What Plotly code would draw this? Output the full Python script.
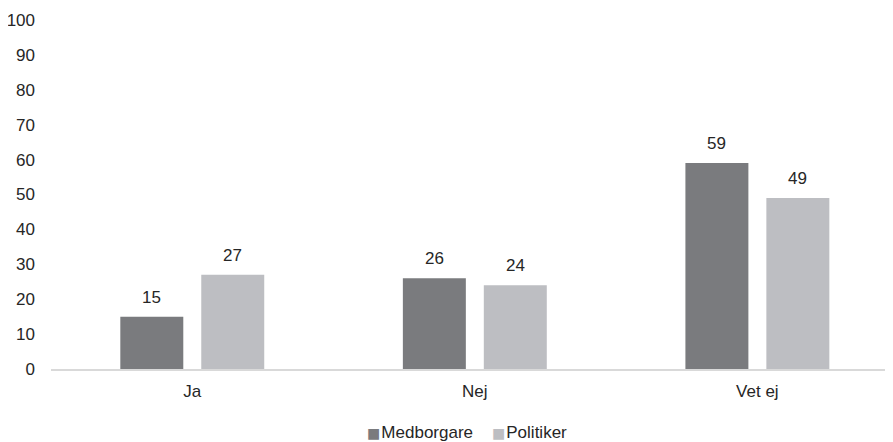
import plotly.graph_objects as go

categories = ["Ja", "Nej", "Vet ej"]
medborgare = [15, 26, 59]
politiker = [27, 24, 49]
y_ticks = [0, 10, 20, 30, 40, 50, 60, 70, 80, 90, 100]
series = [("Medborgare", medborgare, "#7a7b7e"), ("Politiker", politiker, "#bdbec2")]

FONT = "Liberation Sans, Arial, sans-serif"
TXT = "#262626"
BAR_OFFSET_PX = 40.5

fig = go.Figure()
for name, vals, col in series:
    fig.add_trace(go.Bar(
        name=name, x=categories, y=vals,
        marker=dict(color=col, line=dict(width=0)),
        showlegend=False,
    ))

for k, (name, vals, col) in enumerate(series):
    sign = -1 if k == 0 else 1
    for c, v in zip(categories, vals):
        fig.add_annotation(x=c, y=v, text=str(v), showarrow=False,
                           xshift=sign * BAR_OFFSET_PX, yshift=8,
                           yanchor="bottom", xanchor="center",
                           font=dict(family=FONT, size=17, color=TXT))

legend_text = "    ".join(
    f"<span style='color:{col};font-family:DejaVu Sans;font-size:14px'>■</span>"
    f"<span style='font-size:4px'> </span>{name}"
    for name, vals, col in series)
fig.add_annotation(xref="paper", yref="paper", x=0.4935, y=-0.183,
                   text=legend_text, showarrow=False, xanchor="center", yanchor="middle",
                   font=dict(family=FONT, size=17, color=TXT))

fig.update_layout(
    width=885, height=434,
    margin=dict(l=43, r=0, t=12, b=73, autoexpand=False),
    paper_bgcolor="white", plot_bgcolor="white",
    barmode="group", bargap=0.427, bargroupgap=0.222,
    font=dict(family=FONT, size=17, color=TXT),
    showlegend=False,
)
fig.update_xaxes(range=[-0.5, 2.48], showgrid=False, showline=True,
                 linecolor="#d9d9d9", linewidth=1.5, ticks="",
                 ticklabelstandoff=6,
                 tickfont=dict(family=FONT, size=17, color=TXT))
fig.update_yaxes(range=[0, 100], tickvals=y_ticks, showgrid=False,
                 showline=False, zeroline=False, ticks="",
                 ticklabelstandoff=15,
                 tickfont=dict(family=FONT, size=17, color=TXT))

fig.write_html("out.html")
